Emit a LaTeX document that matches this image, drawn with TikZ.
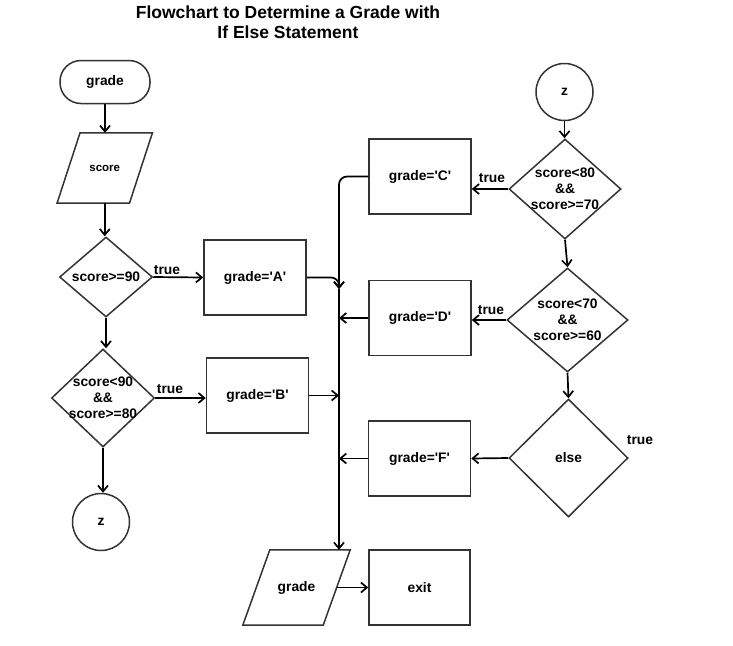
\documentclass[tikz,border=0pt]{standalone}
\usepackage{fontspec}
\newfontfamily\lib{Liberation Sans}
\usetikzlibrary{shapes.geometric,arrows.meta}
\begin{document}
\begin{tikzpicture}[x=1pt,y=-1pt,
  txt/.style={font=\lib\bfseries\fontsize{13.8}{16}\selectfont, text=black},
  shp/.style={txt, draw=black!80, line width=1.5pt, inner sep=0pt, line join=miter},
  box/.style={shp, rectangle, minimum width=102pt, minimum height=75pt},
  dia/.style={shp, diamond},
  circ/.style={shp, circle, minimum size=57pt},
  term/.style={shp, rectangle, rounded corners=21pt, minimum width=90pt, minimum height=43pt},
  io/.style={txt, inner sep=0pt},
  arr/.style={draw=black, line width=1.7pt, -{Straight Barb[length=6pt,width=10pt]}},
  lbl/.style={txt},
  dtext/.style={txt, align=center, inner sep=0pt}
]
\useasboundingbox (0,0) rectangle (733,645);

\node[font=\lib\bfseries\fontsize{17.5}{20}\selectfont, align=center, inner sep=0pt] (title) at (288,22)
  {Flowchart to Determine a Grade with\\If Else Statement};

% left column
\node[term] (start) at (105,82) {grade};
\node[io, minimum width=72pt, minimum height=70pt, font=\lib\bfseries\fontsize{11.5}{14}\selectfont] (score) at (104.75,168) {score};
\draw[shp] ([xshift=-11.5pt]score.south west) -- ([xshift=11.5pt]score.north west) -- ([xshift=11.5pt]score.north east) -- ([xshift=-11.5pt]score.south east) -- cycle;
\node[dia, minimum width=93pt, minimum height=80pt, label={[dtext]center:{score>=90}}] (d1) at (106,277) {};
\node[box] (A) at (255,277.5) {grade='A'};
\node[dia, minimum width=103pt, minimum height=98pt, label={[dtext]center:{score<90\\\&\&\\score>=80}}] (d2) at (103,398) {};
\node[box] (B) at (257.5,395.5) {grade='B'};
\node[circ] (z1) at (101,522) {z};
\node[lbl] (t1) at (167,270) {true};
\node[lbl] (t2) at (170,389) {true};

% right column
\node[circ] (z2) at (564.5,92) {z};
\node[dia, minimum width=112pt, minimum height=100pt, label={[dtext]center:{score<80\\\&\&\\score>=70}}] (d3) at (565,189) {};
\node[box] (C) at (420,176.5) {grade='C'};
\node[dia, minimum width=121pt, minimum height=104pt, label={[dtext]center:{score<70\\\&\&\\score>=60}}] (d4) at (567.5,320) {};
\node[box] (D) at (420,318) {grade='D'};
\node[dia, minimum width=119pt, minimum height=118pt] (d5) at (568.5,458) {else};
\node[box] (F) at (419.5,458.5) {grade='F'};
\node[lbl] (t3) at (492,178) {true};
\node[lbl] (t4) at (491,310) {true};
\node[lbl] (t5) at (640,440) {true};

% bottom
\node[io, minimum width=80pt, minimum height=75pt] (gout) at (296.5,587.5) {grade};
\draw[shp] ([xshift=-13.5pt]gout.south west) -- ([xshift=13.5pt]gout.north west) -- ([xshift=13.5pt]gout.north east) -- ([xshift=-13.5pt]gout.south east) -- cycle;
\node[box, minimum width=101pt] (exit) at (419.5,587.5) {exit};

\coordinate (m) at (339,289);

% connectors
\draw[arr] (start.south) -- (start.south |- score.north);
\draw[arr] (score.south) -- (score.south |- d1.north);
\draw[arr] (d1.south) -- (d1.south |- d2.north);
\draw[arr] (d2.south) -- (d2.south |- z1.north);
\draw[arr] (d1.east) -- (A.west);
\draw[arr] (d2.east) -- (d2.east -| B.west);
\draw[arr, rounded corners=8pt] (A.east) -| (m);
\draw[arr, rounded corners=8pt] (C.west) -| (m);
\draw[arr] (m) -- (m |- gout.north);
\draw[arr] (B.east) -- (B.east -| m);
\draw[arr] (D.west) -- (D.west -| m);
\draw[arr] (F.west) -- (F.west -| m);
\draw[arr] (z2.south) -- (z2.south |- d3.north);
\draw[arr] (d3.south) -- (d4.north);
\draw[arr] (d4.south) -- (d5.north);
\draw[arr] (d3.west) -- (d3.west -| C.east);
\draw[arr] (d4.west) -- (d4.west -| D.east);
\draw[arr] (d5.west) -- (F.east);
\draw[arr] (gout.east) -- (exit.west);
\end{tikzpicture}
\end{document}
